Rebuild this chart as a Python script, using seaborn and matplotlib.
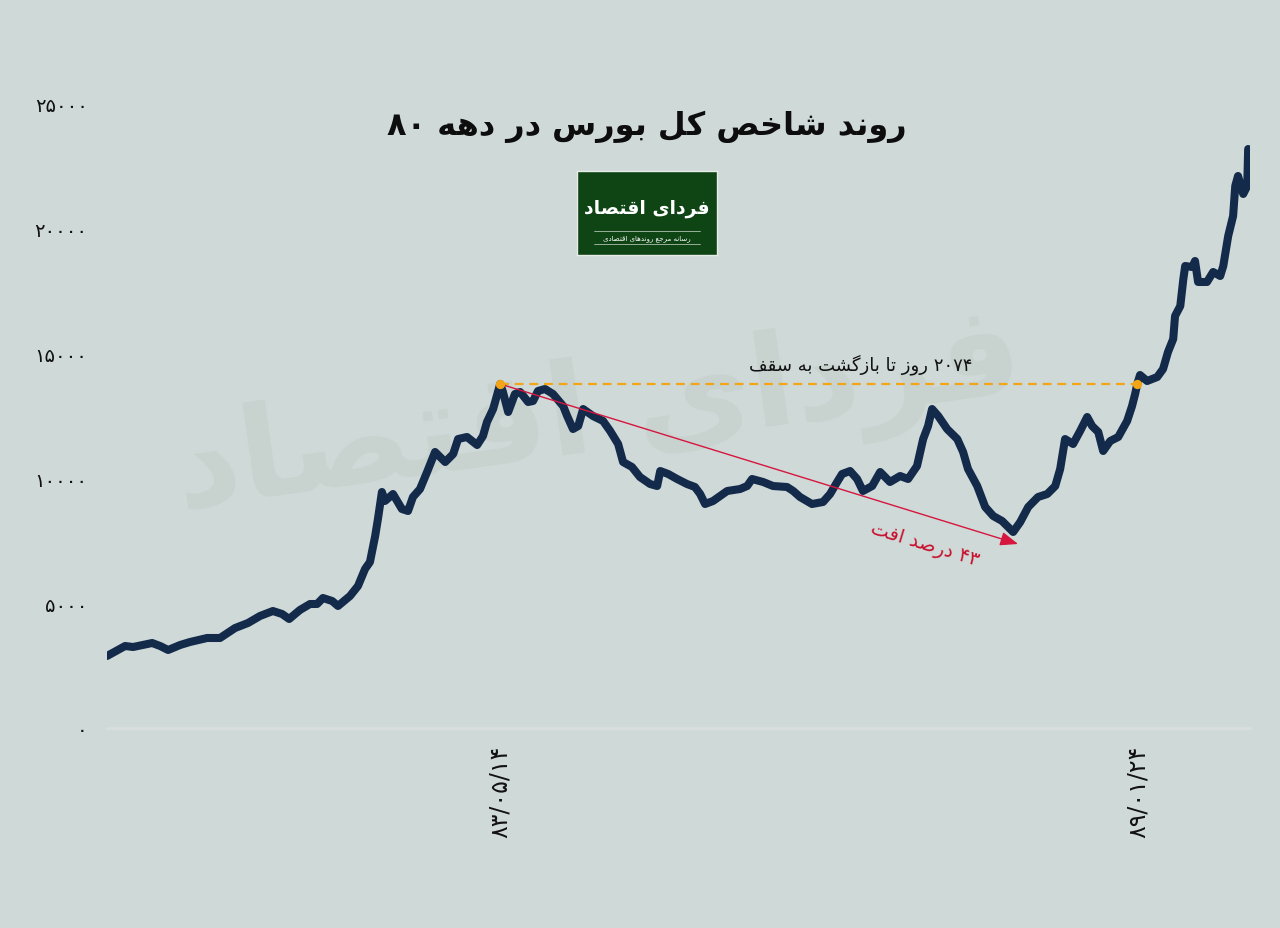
import matplotlib
matplotlib.use("Agg")
import matplotlib.pyplot as plt
import numpy as np
import pandas as pd
import seaborn as sns

# --- data: calendar days since start, index value ---
days = [0, 59, 85, 147, 173, 199, 238, 270, 326, 368, 417, 459, 498, 540, 570,
        593, 628, 661, 684, 703, 733, 752, 791, 817, 840, 856, 873, 882, 895,
        905, 931, 960, 980, 996, 1019, 1042, 1068, 1101, 1127, 1143, 1172, 1205,
        1224, 1237, 1257, 1280, 1289, 1306, 1328, 1345, 1371, 1387, 1403, 1426,
        1452, 1485, 1498, 1517, 1534, 1550, 1582, 1615, 1638, 1664, 1680, 1709,
        1735, 1768, 1791, 1801, 1827, 1856, 1888, 1914, 1931, 1947, 1973, 2019,
        2061, 2084, 2100, 2136, 2168, 2214, 2234, 2256, 2295, 2331, 2354, 2377,
        2393, 2419, 2442, 2461, 2491, 2517, 2549, 2582, 2608, 2637, 2657, 2673,
        2686, 2706, 2735, 2768, 2787, 2803, 2833, 2859, 2885, 2914, 2950, 2973,
        2999, 3031, 3061, 3087, 3103, 3119, 3145, 3168, 3191, 3207, 3227, 3243,
        3266, 3292, 3321, 3337, 3347, 3354, 3363, 3386, 3419, 3438, 3454, 3471,
        3477, 3494, 3504, 3510, 3533, 3542, 3552, 3581, 3601, 3624, 3634, 3650,
        3666, 3673, 3682, 3699, 3712, 3715]
index_values = [2885, 3285, 3245, 3405, 3285, 3125, 3325, 3445, 3606, 3606, 4006,
                4207, 4487, 4687, 4567, 4367, 4728, 4968, 4968, 5208, 5088, 4888,
                5288, 5689, 6370, 6651, 7692, 8373, 9455, 9095, 9375, 8774, 8694,
                9255, 9575, 10256, 11058, 10657, 10978, 11578, 11659, 11338, 11699,
                12260, 12780, 13782, 13462, 12660, 13381, 13462, 13061, 13101,
                13502, 13582, 13381, 12900, 12500, 11979, 12099, 12780, 12500,
                12300, 11899, 11378, 10657, 10457, 10056, 9776, 9695, 10296, 10176,
                9976, 9776, 9655, 9375, 8974, 9095, 9495, 9575, 9695, 9976, 9856,
                9695, 9655, 9495, 9255, 8974, 9055, 9375, 9856, 10176, 10296, 9976,
                9495, 9695, 10256, 9856, 10096, 9976, 10497, 11578, 12099, 12780,
                12500, 11979, 11578, 11058, 10377, 9695, 8854, 8494, 8293, 7853,
                8253, 8854, 9255, 9375, 9695, 10377, 11578, 11378, 11899, 12460,
                12099, 11859, 11098, 11498, 11659, 12300, 12900, 13381, 13782,
                14142, 13902, 14062, 14383, 15064, 15585, 16506, 16907, 17989,
                18510, 18469, 18710, 17869, 17869, 18269, 18109, 18510, 19711,
                20513, 21715, 22115, 21394, 21715, 23197]

peak_day, peak_value = 1280, 13782
recover_day = 3354
arrow_end_day, arrow_end_value = 2966, 7372

tick_days = [1280, 3354]
tick_dates = ["۸۳/۰۵/۱۴", "۸۹/۰۱/۲۴"]
y_ticks = [0, 5000, 10000, 15000, 20000, 25000]

title = "روند شاخص کل بورس در دهه ۸۰"
recover_text = "۲۰۷۴ روز تا بازگشت به سقف"
drop_text = "۴۳ درصد افت"
logo_text = "فردای اقتصاد"
logo_sub = "رسانه مرجع روندهای اقتصادی"

# --- minimal Persian shaping (matplotlib has no bidi / joining) ---
FORMS = {  # isolated, final, initial, medial
    "ا": ("\uFE8D", "\uFE8E", None, None),
    "ب": ("\uFE8F", "\uFE90", "\uFE91", "\uFE92"),
    "ت": ("\uFE95", "\uFE96", "\uFE97", "\uFE98"),
    "ج": ("\uFE9D", "\uFE9E", "\uFE9F", "\uFEA0"),
    "خ": ("\uFEA5", "\uFEA6", "\uFEA7", "\uFEA8"),
    "د": ("\uFEA9", "\uFEAA", None, None),
    "ر": ("\uFEAD", "\uFEAE", None, None),
    "ز": ("\uFEAF", "\uFEB0", None, None),
    "س": ("\uFEB1", "\uFEB2", "\uFEB3", "\uFEB4"),
    "ش": ("\uFEB5", "\uFEB6", "\uFEB7", "\uFEB8"),
    "ص": ("\uFEB9", "\uFEBA", "\uFEBB", "\uFEBC"),
    "ع": ("\uFEC9", "\uFECA", "\uFECB", "\uFECC"),
    "ف": ("\uFED1", "\uFED2", "\uFED3", "\uFED4"),
    "ق": ("\uFED5", "\uFED6", "\uFED7", "\uFED8"),
    "ل": ("\uFEDD", "\uFEDE", "\uFEDF", "\uFEE0"),
    "م": ("\uFEE1", "\uFEE2", "\uFEE3", "\uFEE4"),
    "ن": ("\uFEE5", "\uFEE6", "\uFEE7", "\uFEE8"),
    "ه": ("\uFEE9", "\uFEEA", "\uFEEB", "\uFEEC"),
    "و": ("\uFEED", "\uFEEE", None, None),
    "ک": ("\uFB8E", "\uFB8F", "\uFB90", "\uFB91"),
    "گ": ("\uFB92", "\uFB93", "\uFB94", "\uFB95"),
    "ی": ("\uFBFC", "\uFBFD", "\uFBFE", "\uFBFF"),
}


def shape_word(w):
    out = []
    for i, ch in enumerate(w):
        forms = FORMS.get(ch)
        if forms is None:
            out.append(ch)
            continue
        prev = w[i - 1] if i > 0 else None
        nxt = w[i + 1] if i + 1 < len(w) else None
        join_prev = prev in FORMS and FORMS[prev][2] is not None
        join_next = nxt in FORMS and forms[2] is not None
        if join_prev and join_next:
            out.append(forms[3])
        elif join_prev:
            out.append(forms[1])
        elif join_next:
            out.append(forms[2])
        else:
            out.append(forms[0])
    return "".join(out)


def fa(text):
    vis = []
    for w in text.split(" "):
        vis.append(shape_word(w)[::-1] if any(c in FORMS for c in w) else w)
    return " ".join(reversed(vis))


def fa_digits(n):
    return str(n).translate(str.maketrans("0123456789", "۰۱۲۳۴۵۶۷۸۹"))


# --- style ---
BG = "#cfd9d7"
sns.set_theme(style="white")
plt.rcParams["font.family"] = ["DejaVu Sans"]

df = pd.DataFrame({"day": days, "index": index_values})

fig = plt.figure(figsize=(12.8, 9.29), dpi=100, facecolor=BG)
ax = fig.add_axes([107 / 1280, 200 / 929, 1143 / 1280, 624 / 929])
ax.set_facecolor(BG)

# faint watermark behind the series
ax.text(0.43, 0.50, fa(logo_text), transform=ax.transAxes, fontsize=92,
        fontweight="bold", color="#c8d3d0", ha="center", va="center",
        rotation=8, zorder=1)

sns.lineplot(data=df, x="day", y="index", ax=ax, color="#132a4b", lw=5.8,
             solid_joinstyle="round", solid_capstyle="round", zorder=3)

# ceiling line + markers
ax.plot([peak_day, recover_day], [peak_value, peak_value], color="#f2a516",
        lw=1.6, ls=(0, (4, 2.6)), zorder=4)
ax.scatter([peak_day, recover_day], [peak_value, peak_value], s=45,
           color="#f2a516", zorder=5, linewidths=0)
ax.text((peak_day + recover_day) / 2 + 135, peak_value + 820, fa(recover_text),
        fontsize=13, color="#111111", ha="center", va="center", zorder=6)

# drop arrow
ax.annotate("", xy=(arrow_end_day, arrow_end_value), xytext=(peak_day, peak_value),
            arrowprops=dict(arrowstyle="-|>,head_length=0.9,head_width=0.35",
                            color="#d6163f", lw=1.0, shrinkA=0, shrinkB=0),
            zorder=4)
ax.text(2663, 7350, fa(drop_text), fontsize=14, color="#c8102e",
        ha="center", va="center", rotation=-17, rotation_mode="anchor", zorder=6)

ax.set_xlim(0, 3721)
ax.set_ylim(0, 25000)
ax.set_yticks(y_ticks)
ax.set_yticklabels([fa_digits(v) for v in y_ticks], fontsize=14)
ax.set_xticks(tick_days)
ax.set_xticklabels(tick_dates, rotation=90, fontsize=17)
ax.tick_params(axis="both", length=0, colors="#111111")
ax.tick_params(axis="y", pad=14)
ax.tick_params(axis="x", pad=12)
ax.set_xlabel("")
ax.set_ylabel("")
for side in ["top", "right", "left"]:
    ax.spines[side].set_visible(False)
ax.spines["bottom"].set_color("#d8dedd")
ax.spines["bottom"].set_linewidth(2)

# title
fig.text(0.505, 0.864, fa(title), fontsize=23, fontweight="bold",
         color="#0d0d0d", ha="center", va="center")

# logo box
logo = fig.add_axes([577 / 1280, (929 - 256) / 929, 140 / 1280, 84 / 929])
logo.set_facecolor("#0f4514")
logo.set_xticks([])
logo.set_yticks([])
for s in logo.spines.values():
    s.set_color("#e8ece9")
    s.set_linewidth(1)
logo.set_xlim(0, 1)
logo.set_ylim(0, 1)
logo.text(0.5, 0.56, fa(logo_text), fontsize=13.5, fontweight="bold",
          color="white", ha="center", va="center")
logo.plot([0.12, 0.88], [0.29, 0.29], color="#cfd8cf", lw=0.5)
logo.plot([0.12, 0.88], [0.13, 0.13], color="#cfd8cf", lw=0.5)
logo.text(0.5, 0.21, fa(logo_sub), fontsize=5, color="white",
          ha="center", va="center")

fig.savefig("out.png", dpi=100, facecolor=BG)
